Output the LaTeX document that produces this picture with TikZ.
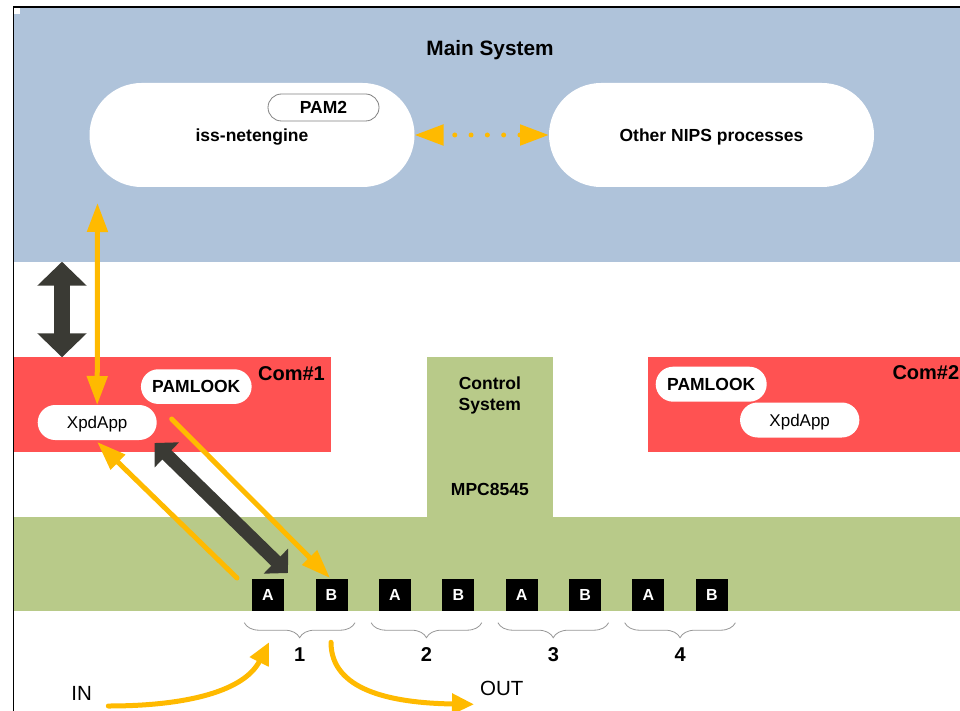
\documentclass[tikz,border=0pt]{standalone}
\usepackage{fontspec}
\setmainfont{Liberation Sans}
\usetikzlibrary{arrows.meta,decorations.pathreplacing}

\definecolor{mainblue}{RGB}{175,195,218}
\definecolor{comred}{RGB}{255,82,82}
\definecolor{boardgreen}{RGB}{184,202,137}
\definecolor{flowyellow}{RGB}{255,186,0}
\definecolor{busdark}{RGB}{58,58,52}
\definecolor{bracegray}{RGB}{150,150,150}

\newcommand\fHead{\fontsize{20.8}{25}\selectfont\bfseries}
\newcommand\fTitle{\fontsize{20}{24}\selectfont\bfseries}
\newcommand\fProc{\fontsize{17.5}{21.7}\selectfont\bfseries}
\newcommand\fApp{\fontsize{17}{20}\selectfont}
\newcommand\fPort{\fontsize{16}{19}\selectfont\bfseries}
\newcommand\fIO{\fontsize{20.5}{24}\selectfont}

\tikzset{
  band/.style={rectangle, draw=none, inner sep=0pt, outer sep=0pt},
  pill/.style={rectangle, fill=white, draw=none, inner sep=0pt, outer sep=0pt,
               text depth=0pt, rounded corners=#1},
  proc/.style={font=\fProc, text height=12.5pt},
  app/.style={font=\fApp, text height=12.2pt},
  port/.style={rectangle, fill=black, text=white, font=\fPort, inner sep=0pt,
               outer sep=0pt, minimum width=32pt, minimum height=32pt,
               text height=11.5pt, text depth=0pt},
  lbl/.style={inner sep=0pt, anchor=base},
  yline/.style={draw=flowyellow, line width=5pt, line cap=round},
  ytip/.tip={Triangle[length=29pt,width=20pt]},
  iotip/.tip={Triangle[length=22pt,width=20pt]},
  dline/.style={draw=busdark},
  bustip/.tip={Triangle[length=24pt,width=48pt]},
  linktip/.tip={Triangle[length=17pt,width=34pt]},
  grp/.style={draw=bracegray, line width=0.8pt, decorate,
              decoration={brace, mirror, amplitude=15pt}},
}

\begin{document}
\begin{tikzpicture}[x=1pt,y=-1pt]
\useasboundingbox (0,0) rectangle (960,711);

% outer frame
\draw[line width=1.3pt] (13.3,711) -- (13.3,7) -- (960,7);

% system bands
\node[band, fill=mainblue, minimum width=945.7pt, minimum height=253.4pt] (mainsys) at (487.15,135) {};
\fill[white] (14.3,8.3) rectangle (20,14);
\node[band, fill=comred, minimum width=316.7pt, minimum height=94.7pt] (com1) at (172.65,404.65) {};
\node[band, fill=comred, minimum width=311.7pt, minimum height=94.7pt] (com2) at (804.15,404.65) {};
\node[band, fill=boardgreen, minimum width=126.3pt, minimum height=159.7pt] (ctl) at (489.85,437.15) {};
\node[band, fill=boardgreen, minimum width=945.7pt, minimum height=94.5pt] (board) at (487.15,563.75) {};

% band titles
\node[lbl, font=\fHead] (mainlbl) at (490,56) {Main System};
\node[lbl, font=\fTitle, anchor=base east] (com1lbl) at (325,380) {Com\#1};
\node[lbl, font=\fTitle, anchor=base west] (com2lbl) at (892.3,379.5) {Com\#2};
\node[font=\fProc, align=center, inner sep=0pt, anchor=north] (ctllbl) at (489.85,376.3) {Control\\System};
\node[lbl, font=\fProc] (cpulbl) at (489.85,495) {MPC8545};

% processes
\node[pill=52pt, proc, minimum width=325pt, minimum height=104pt] (iss) at (252,135) {iss-netengine};
\node[pill=52pt, proc, minimum width=325pt, minimum height=104pt] (nips) at (711.5,135) {Other NIPS processes};
\node[pill=13.5pt, proc, draw=gray, line width=0.8pt, minimum width=111pt, minimum height=27pt] (pam2) at (323.5,107.5) {PAM2};
\node[pill=17.4pt, proc, minimum width=110.7pt, minimum height=34.7pt] (look1) at (196.3,386.6) {PAMLOOK};
\node[pill=17.5pt, app, minimum width=119pt, minimum height=35pt] (xpd1) at (97.2,422.5) {XpdApp};
\node[pill=17.5pt, proc, minimum width=111pt, minimum height=35pt] (look2) at (711.2,384.2) {PAMLOOK};
\node[pill=17.5pt, app, minimum width=119.3pt, minimum height=35pt] (xpd2) at (799.7,420) {XpdApp};

% ports with their group braces
\foreach \k in {1,...,4} {
  \node[port] (pA\k) at ({268+126.8*(\k-1)},595) {A};
  \node[port] (pB\k) at ({331.5+126.8*(\k-1)},595) {B};
  \draw[grp] ([shift={(-7.7pt,-11.7pt)}]pA\k.south west) -- ([shift={(7.5pt,-11.7pt)}]pB\k.south east);
  \node[lbl, font=\fTitle] (num\k) at ({299.75+126.8*(\k-1)},661) {\k};
}

% channel between processes
\draw[yline, dash pattern=on 0pt off 16.3pt, dash phase=3.8pt, ytip-ytip] (iss.east) -- (nips.west);

% XpdApp to main system
\coordinate (issPort) at (97.5,203);
\draw[yline, ytip-ytip] (xpd1.north) -- (issPort);

% bus between main system and Com#1
\coordinate (busTop) at ([xshift=47.7pt]mainsys.south west);
\coordinate (busBot) at ([xshift=47.7pt]com1.north west);
\draw[dline, line width=16pt, bustip-bustip] (busTop) -- (busBot);

% traffic between XpdApp and port pair 1
\draw[yline, -ytip] ([shift={(-15pt,1pt)}]pA1.north west) -- ([yshift=-2pt]xpd1.south);
\draw[dline, line width=13pt, linktip-linktip] ([shift={(-2pt,-3pt)}]xpd1.south east) -- ([shift={(4pt,6pt)}]pA1.north east);
\draw[yline, -ytip] ([shift={(15pt,3.5pt)}]xpd1.east) -- ([shift={(-1.5pt,1pt)}]pB1.north);

% external traffic
\node[lbl, font=\fIO] (inlbl) at (81.7,700) {IN};
\node[lbl, font=\fIO] (outlbl) at (501.7,695.7) {OUT};
\coordinate (inStart) at (108.3,706);
\coordinate (inEnd) at (269,642.3);
\draw[yline, -iotip] (inStart) .. controls (190,706) and (245,690) .. (inEnd);
\coordinate (outStart) at (331,642.3);
\coordinate (outEnd) at (474,704.3);
\draw[yline, -iotip] (outStart) .. controls (331,690) and (390,703) .. (outEnd);
\end{tikzpicture}
\end{document}
